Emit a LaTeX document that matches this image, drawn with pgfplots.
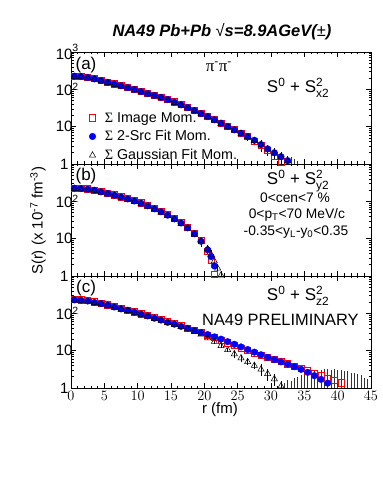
\documentclass[border=0pt]{standalone}
\usepackage{amsmath}
\usepackage{fontspec}
\setmainfont{Liberation Sans}
\newfontfamily\symfont{Liberation Serif}
\usepackage{pgfplots}
\pgfplotsset{compat=1.18}
\usepackage{pgfplotstable}

\newcommand{\Ssq}[1]{S$^{\text{2}}_{\text{#1}}$}

% S(r) in units of 1e-7 fm^-3, columns: image, 2-source fit, gaussian fit, rel. error of gaussian
\pgfplotstableread{
r    img    src    gau    ge
0.5  228.4  223.9  217.2  0.03
1.5  223.2  218.8  212.2  0.03
2.5  210.6  206.5  200.3  0.03
3.5  194.3  190.5  184.8  0.03
4.5  175.2  171.8  166.6  0.03
5.5  156.2  153.1  148.5  0.03
6.5  140.8  138.0  133.9  0.03
7.5  127.0  124.5  120.8  0.03
8.5  113.1  110.9  107.6  0.03
9.5  100.9  98.9   95.9   0.03
10.5 88.8   87.1   84.5   0.06
11.5 78.2   76.7   74.4   0.06
12.5 69.8   68.4   66.3   0.06
13.5 62.2   61.0   59.2   0.06
14.5 54.2   53.1   51.5   0.06
15.5 46.1   45.2   43.8   0.06
16.5 39.3   38.5   37.3   0.06
17.5 33.0   32.4   31.4   0.06
18.5 27.4   26.9   26.1   0.06
19.5 22.8   22.4   21.7   0.06
20.5 19.0   18.6   18.0   0.12
21.5 15.6   15.3   14.8   0.12
22.5 12.6   12.4   12.0   0.12
23.5 10.3   10.1   9.80   0.12
24.5 8.38   8.22   7.97   0.12
25.5 6.74   6.68   6.48   0.2
26.5 5.40   5.43   5.27   0.2
27.5 4.15   4.32   4.19   0.2
28.5 3.15   3.31   3.21   0.35
29.5 2.30   2.54   2.46   0.35
30.5 1.65   2.00   1.94   0.35
31.5 1.15   1.57   1.52   0.35
32.5 nan    1.23   1.19   0.35
}\tabA

\pgfplotstableread{
r    img    src    gau    ge
0.5  228.4  223.9  217.2  0.03
1.5  223.2  218.8  212.2  0.03
2.5  215.5  211.3  205.0  0.03
3.5  201.1  197.2  191.3  0.03
4.5  183.5  179.9  174.5  0.03
5.5  165.4  162.2  157.3  0.03
6.5  149.1  146.2  141.8  0.03
7.5  132.9  130.3  126.4  0.03
8.5  118.4  116.1  112.6  0.03
9.5  104.3  102.3  99.2   0.03
10.5 91.8   89.1   86.4   0.06
11.5 78.9   75.9   73.6   0.06
12.5 66.3   63.1   61.2   0.06
13.5 55.1   52.5   50.9   0.06
14.5 44.8   42.7   41.4   0.06
15.5 35.6   33.9   32.9   0.12
16.5 27.6   26.3   25.5   0.12
17.5 20.5   19.5   18.9   0.12
18.5 14.2   13.5   13.1   0.12
19.5 8.9    8.51   8.6    0.3
20.5 4.6    5.01   5.3    0.3
21.0 2.7    3.31   3.8    0.3
21.5 1.1    1.86   2.5    0.3
22.0 nan    nan    1.6    0.3
22.5 nan    nan    1.05   0.3
}\tabB

\pgfplotstableread{
r    img    src    gau    ge
0.5  234.4  229.1  223.9  0.03
1.5  229.1  223.9  218.8  0.03
2.5  218.8  213.8  208.9  0.03
3.5  204.2  195.0  190.5  0.03
4.5  186.2  182.0  177.8  0.03
5.5  169.8  166.0  162.2  0.03
6.5  154.9  147.9  144.5  0.03
7.5  138.0  131.8  128.8  0.03
8.5  123.0  120.2  117.5  0.03
9.5  109.6  107.2  104.7  0.03
10.5 97.7   95.5   93.3   0.06
11.5 87.1   85.1   83.2   0.06
12.5 77.6   74.1   72.4   0.06
13.5 69.2   66.1   64.6   0.06
14.5 60.3   57.5   56.2   0.06
15.5 53.7   51.3   50.1   0.06
16.5 46.8   44.7   43.7   0.06
17.5 40.7   39.8   38.0   0.06
18.5 35.5   34.7   32.4   0.12
19.5 30.9   30.9   27.5   0.12
20.5 26.3   26.9   21.9   0.12
21.5 22.4   23.4   17.4   0.12
22.5 19.1   20.4   13.5   0.12
23.5 16.2   17.4   10.5   0.12
24.5 13.8   14.8   8.13   0.2
25.5 11.7   12.6   6.31   0.2
26.5 10.0   10.7   5.01   0.2
27.5 8.71   9.12   3.98   0.2
28.5 7.59   7.76   3.16   0.35
29.5 6.61   6.61   2.40   0.35
30.5 5.75   5.75   1.74   0.35
31.5 5.13   5.01   1.12   0.35
32.5 4.47   4.37   nan    0
33.5 3.89   3.72   nan    0
34.5 3.39   3.16   nan    0
35.5 2.88   2.63   nan    0
36.5 2.51   2.14   nan    0
37.5 2.14   1.70   nan    0
38.5 1.82   1.35   nan    0
39.5 1.58   nan    nan    0
40.5 1.38   nan    nan    0
}\tabC

% error bars of gaussian-fit points that fall below the range
\pgfplotstableread{
r    y    e
33.0 0.8  0.7
33.5 0.8  0.55
34.0 0.8  0.4
}\tailA

\pgfplotstableread{
r    y    e
32.0 0.8  0.6
32.5 0.8  0.8
33.0 0.8  0.7
33.5 0.8  1.0
34.0 0.8  1.2
34.5 0.8  1.4
35.0 0.8  1.5
35.5 0.8  1.7
36.0 0.8  1.9
36.5 0.8  2.1
37.0 0.8  2.2
37.5 0.8  2.3
38.0 0.8  2.4
38.5 0.8  2.4
39.0 0.8  2.3
39.5 0.8  2.4
40.0 0.8  2.2
40.5 0.8  2.3
41.0 0.8  2.1
41.5 0.8  2.0
42.0 0.8  1.8
42.5 0.8  1.7
43.0 0.8  1.5
43.5 0.8  1.4
44.0 0.8  1.1
44.5 0.8  0.9
}\tailC

\pgfplotsset{
  mypanel/.style={
    width=300pt, height=112pt, scale only axis,
    xmin=0, xmax=45, ymin=1, ymax=1000,
    xtick={0,5,...,45}, minor x tick num=4,
    ytick={1,10,100},
    yticklabels={1\kern4pt,10,{10\rlap{\textsuperscript{2}}}},
    yticklabel style={xshift=5pt},
    minor ytick={2,3,4,5,6,7,8,9,20,30,40,50,60,70,80,90,200,300,400,500,600,700,800,900},
    tick align=inside, major tick length=5pt, minor tick length=2.5pt,
    axis line style={line width=0.8pt},
    every tick/.style={black, line width=0.6pt},
    tick label style={font=\fontsize{15}{15}\selectfont},
  },
  serimg/.style={only marks, mark=square, mark size=3.1pt, red, line width=0.6pt},
  sersrc/.style={only marks, mark=*, mark size=3.3pt, blue},
  sergau/.style={only marks, mark=triangle, mark size=3.6pt, black, line width=0.5pt,
    error bars/y dir=both, error bars/y explicit relative,
    error bars/error mark=none, error bars/error bar style={line width=0.4pt, black}},
  sertail/.style={forget plot, only marks, mark=none, black,
    error bars/y dir=plus, error bars/y explicit,
    error bars/error mark=none, error bars/error bar style={line width=0.4pt, black!80}},
}

\begin{document}
\begin{tikzpicture}
\useasboundingbox (0,0) rectangle (382pt,494pt);

% (c)
\begin{semilogyaxis}[mypanel, at={(71pt,106pt)}, anchor=south west]
\addplot[serimg] table[x=r, y=img] {\tabC};
\addplot[sersrc] table[x=r, y=src] {\tabC};
\addplot[sergau] table[x=r, y=gau, y error=ge] {\tabC};
\addplot[sertail] table[x=r, y=y, y error=e] {\tailC};
\node at (rel axis cs:0.05,0.89) {\fontsize{17}{17}\selectfont (c)};
\node at (rel axis cs:0.757,0.826) {\fontsize{17}{17}\selectfont S\textsuperscript{0} + \Ssq{z2}};
\node at (rel axis cs:0.698,0.607) {\fontsize{16.4}{17}\selectfont NA49 PRELIMINARY};
\end{semilogyaxis}

% (b)
\begin{semilogyaxis}[mypanel, at={(71pt,218pt)}, anchor=south west, xticklabels={}]
\addplot[serimg] table[x=r, y=img] {\tabB};
\addplot[sersrc] table[x=r, y=src] {\tabB};
\addplot[sergau] table[x=r, y=gau, y error=ge] {\tabB};
\node at (rel axis cs:0.05,0.89) {\fontsize{17}{17}\selectfont (b)};
\node at (rel axis cs:0.757,0.85) {\fontsize{17}{17}\selectfont S\textsuperscript{0} + \Ssq{y2}};
\node at (rel axis cs:0.747,0.696) {\fontsize{13.8}{14}\selectfont 0<cen<7 \%};
\node at (rel axis cs:0.753,0.545) {\fontsize{13.8}{14}\selectfont 0<p\textsubscript{T}<70 MeV/c};
\node at (rel axis cs:0.75,0.393) {\fontsize{13.8}{14}\selectfont -0.35<y\textsubscript{L}-y\textsubscript{0}<0.35};
\end{semilogyaxis}

% (a)
\begin{semilogyaxis}[mypanel, at={(71pt,330pt)}, anchor=south west, xticklabels={},
  ytick={1,10,100,1000},
  yticklabels={1\kern4pt,10,{10\rlap{\textsuperscript{2}}},{10\rlap{\raisebox{3pt}{\textsuperscript{3}}}}},
  legend style={at={(0.05,0.5)}, anchor=north west, draw=none, fill=none,
    font=\fontsize{14.3}{14.3}\selectfont, row sep=3pt, column sep=7pt},
  legend cell align=left]
\addplot[serimg] table[x=r, y=img] {\tabA};
\addplot[sersrc] table[x=r, y=src] {\tabA};
\addplot[sergau] table[x=r, y=gau, y error=ge] {\tabA};
\addplot[sertail] table[x=r, y=y, y error=e] {\tailA};
\legend{{\symfont Σ} Image Mom., {\symfont Σ} 2-Src Fit Mom., {\symfont Σ} Gaussian Fit Mom.}
\node at (rel axis cs:0.05,0.884) {\fontsize{17}{17}\selectfont (a)};
\node at (rel axis cs:0.493,0.866) {\fontsize{17}{17}\selectfont {\symfont π}\textsuperscript{-}{\symfont π}\textsuperscript{-}};
\node at (rel axis cs:0.757,0.68) {\fontsize{17}{17}\selectfont S\textsuperscript{0} + \Ssq{x2}};
\end{semilogyaxis}

\node at (222pt,462pt) {\fontsize{16.5}{18}\selectfont\bfseries\itshape NA49 Pb+Pb {\mdseries\upshape √}s=8.9AGeV({\mdseries\upshape ±})};
\node[rotate=90] at (38pt,273pt) {\fontsize{15}{15}\selectfont S(r) (x 10\textsuperscript{-7} fm\textsuperscript{-3})};
\node at (220pt,84pt) {\fontsize{15}{15}\selectfont r (fm)};
\end{tikzpicture}
\end{document}
